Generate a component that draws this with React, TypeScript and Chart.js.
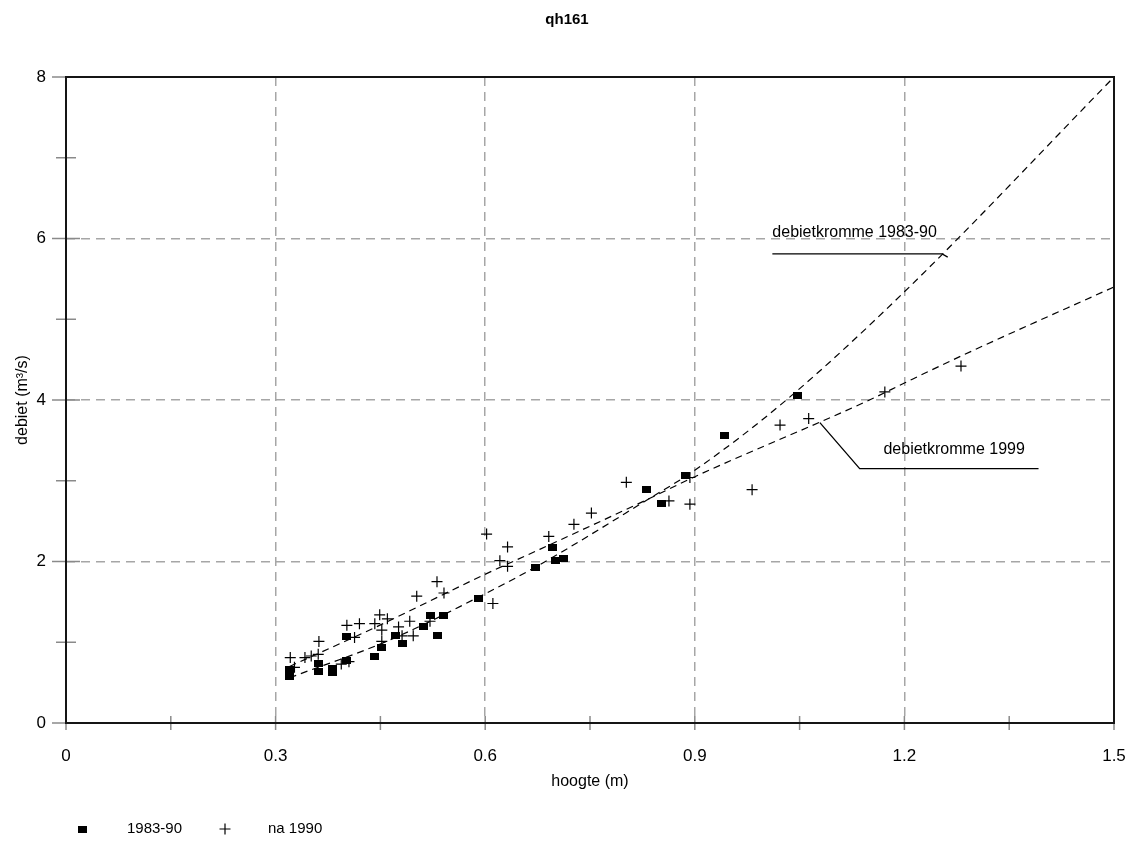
import React, { useEffect, useRef } from 'react';
import { Chart, registerables } from 'chart.js';

Chart.register(...registerables);

const FONT = '"Liberation Sans", Arial, Helvetica, sans-serif';

const TITLE = 'qh161';
const X_TITLE = 'hoogte (m)';
const Y_TITLE = 'debiet (m³/s)';
const LABEL_1983_90 = '1983-90';
const LABEL_NA_1990 = 'na 1990';
const LABEL_CURVE_1983_90 = 'debietkromme 1983-90';
const LABEL_CURVE_1999 = 'debietkromme 1999';

// tick labels (major) and minor step
const X_MAJOR_TICKS = [0, 0.3, 0.6, 0.9, 1.2, 1.5];
const Y_MAJOR_TICKS = [0, 2, 4, 6, 8];
const X_MINOR_STEP = 0.15;
const Y_MINOR_STEP = 1;

// measurements 1983-90 (squares)
const H_1983_90 = [0.320, 0.320, 0.362, 0.362, 0.381, 0.381, 0.402, 0.402, 0.441, 0.452, 0.471, 0.482, 0.511, 0.522, 0.532, 0.541, 0.591, 0.672, 0.697, 0.701, 0.712, 0.831, 0.852, 0.887, 0.942, 1.047];
const Q_1983_90 = [0.66, 0.57, 0.74, 0.64, 0.68, 0.62, 0.78, 1.07, 0.82, 0.94, 1.08, 0.99, 1.19, 1.33, 1.08, 1.33, 1.54, 1.93, 2.17, 2.01, 2.04, 2.89, 2.72, 3.07, 3.56, 4.05];

// measurements na 1990 (crosses)
const H_NA_1990 = [0.321, 0.327, 0.342, 0.351, 0.361, 0.362, 0.394, 0.402, 0.405, 0.413, 0.420, 0.442, 0.449, 0.452, 0.452, 0.460, 0.476, 0.481, 0.492, 0.497, 0.502, 0.521, 0.531, 0.541, 0.602, 0.611, 0.621, 0.632, 0.632, 0.691, 0.727, 0.752, 0.802, 0.863, 0.893, 0.893, 0.982, 1.022, 1.063, 1.172, 1.281];
const Q_NA_1990 = [0.81, 0.69, 0.81, 0.83, 0.85, 1.01, 0.73, 1.21, 0.76, 1.06, 1.23, 1.23, 1.34, 1.15, 1.01, 1.29, 1.19, 1.08, 1.26, 1.08, 1.57, 1.26, 1.75, 1.61, 2.34, 1.48, 2.01, 2.18, 1.94, 2.31, 2.46, 2.60, 2.98, 2.75, 2.71, 3.04, 2.89, 3.69, 3.77, 4.10, 4.42];

// rating curves
const H_CURVE_1983_90 = [0.32, 0.464, 0.602, 0.678, 0.835, 0.9, 1.031, 1.2, 1.5];
const Q_CURVE_1983_90 = [0.56, 1.03, 1.61, 1.96, 2.78, 3.13, 4.0, 5.34, 8.0];
const H_CURVE_1999 = [0.32, 0.444, 0.602, 0.678, 0.835, 0.9, 1.15, 1.2, 1.28, 1.5];
const Q_CURVE_1999 = [0.70, 1.19, 1.85, 2.15, 2.78, 3.05, 4.0, 4.21, 4.54, 5.40];

// annotation anchors (data units)
const NOTES = [
  { text: LABEL_CURVE_1983_90, tx: 1.011, ty: 6.022, path: [[1.011, 5.81], [1.254, 5.81], [1.262, 5.77]] },
  { text: LABEL_CURVE_1999, tx: 1.170, ty: 3.331, path: [[1.079, 3.72], [1.136, 3.15], [1.392, 3.15]] },
];

const zip = (xs: number[], ys: number[]) => xs.map((x, i) => ({ x, y: ys[i] }));
const isMajor = (v: number, list: number[]) => list.some((t) => Math.abs(t - v) < 1e-6);

function makeSquare(): HTMLCanvasElement {
  const c = document.createElement('canvas');
  c.width = 9;
  c.height = 7;
  const g = c.getContext('2d')!;
  g.fillStyle = '#000';
  g.fillRect(0, 0, 9, 7);
  return c;
}

const titlePlugin = {
  id: 'titleText',
  afterDraw(chart: any) {
    const { ctx } = chart;
    ctx.save();
    ctx.fillStyle = '#000';
    ctx.font = `bold 15px ${FONT}`;
    ctx.textAlign = 'center';
    ctx.textBaseline = 'middle';
    ctx.fillText(TITLE, chart.width / 2, 20);
    ctx.restore();
  },
};

const framePlugin = {
  id: 'frame',
  afterDraw(chart: any) {
    const { ctx, chartArea: a } = chart;
    const xs = chart.scales.x;
    const ys = chart.scales.y;
    ctx.save();
    ctx.setLineDash([]);
    ctx.strokeStyle = '#8a8a8a';
    ctx.lineWidth = 1.5;
    xs.ticks.forEach((t: any) => {
      const px = xs.getPixelForValue(t.value);
      ctx.beginPath();
      ctx.moveTo(px, a.bottom - 7);
      ctx.lineTo(px, a.bottom + 7);
      ctx.stroke();
    });
    ys.ticks.forEach((t: any) => {
      const py = ys.getPixelForValue(t.value);
      const len = isMajor(t.value, Y_MAJOR_TICKS) ? 14 : 10;
      ctx.beginPath();
      ctx.moveTo(a.left - len, py);
      ctx.lineTo(a.left + len, py);
      ctx.stroke();
    });
    ctx.strokeStyle = '#151515';
    ctx.lineWidth = 2;
    ctx.strokeRect(a.left, a.top, a.right - a.left, a.bottom - a.top);
    ctx.restore();
  },
};

const notesPlugin = {
  id: 'notes',
  afterDatasetsDraw(chart: any) {
    const { ctx } = chart;
    const xs = chart.scales.x;
    const ys = chart.scales.y;
    ctx.save();
    ctx.setLineDash([]);
    ctx.strokeStyle = '#000';
    ctx.lineWidth = 1.3;
    ctx.fillStyle = '#000';
    ctx.font = `16px ${FONT}`;
    ctx.textAlign = 'left';
    ctx.textBaseline = 'alphabetic';
    NOTES.forEach((n) => {
      ctx.beginPath();
      n.path.forEach(([hx, qy], i) => {
        const px = xs.getPixelForValue(hx);
        const py = ys.getPixelForValue(qy);
        if (i === 0) ctx.moveTo(px, py);
        else ctx.lineTo(px, py);
      });
      ctx.stroke();
      ctx.fillText(n.text, xs.getPixelForValue(n.tx), ys.getPixelForValue(n.ty));
    });
    ctx.restore();
  },
};

const legendPlugin = {
  id: 'legendRow',
  afterDraw(chart: any) {
    const { ctx } = chart;
    const ds = chart.data.datasets;
    const y = 829;
    ctx.save();
    ctx.font = `15px ${FONT}`;
    ctx.fillStyle = '#000';
    ctx.textAlign = 'left';
    ctx.textBaseline = 'middle';
    const sq = ds[0].pointStyle as HTMLCanvasElement;
    ctx.drawImage(sq, 82 - sq.width / 2, Math.round(y - sq.height / 2));
    ctx.fillText(ds[0].label, 127, y);
    ctx.strokeStyle = '#000';
    ctx.lineWidth = 1.2;
    ctx.beginPath();
    ctx.moveTo(225 - 5.5, y);
    ctx.lineTo(225 + 5.5, y);
    ctx.moveTo(225, y - 5.5);
    ctx.lineTo(225, y + 5.5);
    ctx.stroke();
    ctx.fillText(ds[1].label, 268, y);
    ctx.restore();
  },
};

export default function App() {
  const ref = useRef<HTMLCanvasElement | null>(null);

  useEffect(() => {
    if (!ref.current) return;
    const square = makeSquare();
    const gridColor = (list: number[], max: number) => (c: any) => {
      const v = c.tick ? c.tick.value : NaN;
      if (!isMajor(v, list) || Math.abs(v) < 1e-9 || Math.abs(v - max) < 1e-9) return 'rgba(0,0,0,0)';
      return '#a6a6a6';
    };
    const chart = new Chart(ref.current, {
      type: 'scatter',
      data: {
        datasets: [
          {
            label: LABEL_1983_90,
            data: zip(H_1983_90, Q_1983_90),
            pointStyle: square as any,
            pointRadius: 5,
            backgroundColor: '#000',
            borderColor: '#000',
            showLine: false,
          },
          {
            label: LABEL_NA_1990,
            data: zip(H_NA_1990, Q_NA_1990),
            pointStyle: 'cross',
            pointRadius: 5.5,
            borderWidth: 1.2,
            borderColor: '#000',
            backgroundColor: '#000',
            showLine: false,
          },
          {
            label: LABEL_CURVE_1983_90,
            data: zip(H_CURVE_1983_90, Q_CURVE_1983_90),
            showLine: true,
            pointRadius: 0,
            borderColor: '#000',
            borderWidth: 1.2,
            borderDash: [7, 5],
            cubicInterpolationMode: 'monotone',
            fill: false,
          },
          {
            label: LABEL_CURVE_1999,
            data: zip(H_CURVE_1999, Q_CURVE_1999),
            showLine: true,
            pointRadius: 0,
            borderColor: '#000',
            borderWidth: 1.2,
            borderDash: [7, 5],
            cubicInterpolationMode: 'monotone',
            fill: false,
          },
        ],
      },
      options: {
        animation: false,
        responsive: false,
        devicePixelRatio: 1,
        events: [],
        layout: { padding: { left: 0, right: 20, top: 77, bottom: 62 } },
        plugins: {
          legend: { display: false },
          tooltip: { enabled: false },
          title: { display: false },
        },
        scales: {
          x: {
            type: 'linear',
            position: 'bottom',
            min: 0,
            max: 1.5,
            afterFit: (s: any) => {
              s.height = 68;
              s.paddingLeft = 0;
              s.paddingRight = 0;
            },
            ticks: {
              stepSize: X_MINOR_STEP,
              autoSkip: false,
              maxRotation: 0,
              padding: 23,
              color: '#000',
              font: { family: FONT, size: 17 },
              callback: (v: any) => (isMajor(Number(v), X_MAJOR_TICKS) ? String(Number(Number(v).toFixed(2))) : ''),
            },
            grid: { color: gridColor(X_MAJOR_TICKS, 1.5), lineWidth: 1.5, drawTicks: false },
            border: { display: false, dash: [9, 6] },
            title: { display: true, text: X_TITLE, color: '#000', font: { family: FONT, size: 16 }, padding: 0 },
          },
          y: {
            type: 'linear',
            min: 0,
            max: 8,
            afterFit: (s: any) => {
              s.width = 66;
              s.paddingTop = 0;
              s.paddingBottom = 0;
            },
            ticks: {
              stepSize: Y_MINOR_STEP,
              autoSkip: false,
              padding: 20,
              color: '#000',
              font: { family: FONT, size: 17 },
              callback: (v: any) => (isMajor(Number(v), Y_MAJOR_TICKS) ? String(Number(v)) : ''),
            },
            grid: { color: gridColor(Y_MAJOR_TICKS, 8), lineWidth: 1.5, drawTicks: false },
            border: { display: false, dash: [9, 6] },
            title: { display: true, text: Y_TITLE, color: '#000', font: { family: FONT, size: 16 }, padding: { top: 13, bottom: 0 } },
          },
        },
      } as any,
      plugins: [framePlugin, notesPlugin, legendPlugin, titlePlugin],
    });
    return () => chart.destroy();
  }, []);

  return (
    <div style={{ position: 'fixed', left: 0, top: 0, width: 1134, height: 853, background: '#fff' }}>
      <canvas ref={ref} width={1134} height={853} style={{ display: 'block', width: 1134, height: 853 }} />
    </div>
  );
}
